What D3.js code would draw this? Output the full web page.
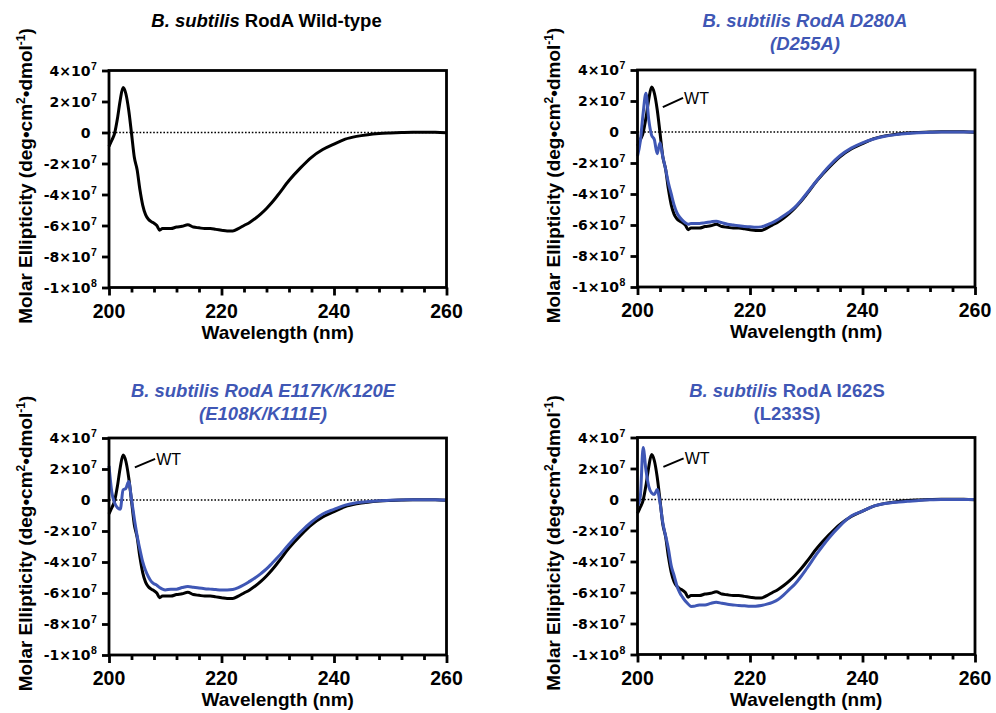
<!DOCTYPE html>
<html>
<head>
<meta charset="utf-8">
<script src="https://cdn.jsdelivr.net/npm/d3@7"></script>
<style>
  body { margin: 0; background: #fff; }
</style>
</head>
<body>
<div id="chart"></div>
<script>
var W = 996,
	H = 713;

var blue = "#3f57b5";
var font = '"Liberation Sans", Arial, sans-serif';

// wavelength (nm) of every sample
var wavelengths = [200,200.5,201,201.5,202,202.5,203,203.5,204,204.5,205,205.5,206,206.5,207,207.5,208,208.5,209,209.5,210,
	211,212,213,214,215,216,217,218,219,220,221,222,223,224,225,226,227,228,229,230,
	232,234,236,238,240,242,244,246,248,250,252,254,256,258,260];

// molar ellipticity, in units of 10^6 deg cm2 dmol-1
var wildType = [-9,-5,-0.5,9,21,29,25,14.5,-0.5,-16,-24,-37,-47,-53,-56,-57.5,-58.5,-60,-63,-62,-62,
	-62,-61,-60.5,-59.5,-61,-61.5,-62,-62,-62.5,-63,-63.5,-63.5,-62,-60,-58,-55.5,-52.5,-49,-45,-40.5,
	-31,-23,-16,-11,-7.5,-4.3,-2.5,-1.4,-0.7,-0.3,0,0.2,0.2,0.1,-0.2];

var d280a = [-15.5,-6,12,25,8,-2,-5,-14,-7,-16,-24,-33,-40,-47,-52,-55,-57,-58.5,-59.5,-59,-59,
	-59,-58.5,-58,-57.5,-58.5,-59.5,-60,-60.5,-61,-61.2,-61.5,-61.2,-60,-58.5,-56.5,-54,-51.5,-48.5,-44.5,-40,
	-30.8,-22.2,-15.3,-10.4,-7,-4.5,-2.8,-1.7,-1,-0.5,-0.2,0,0,0,0];

var e117k = [22,5,-2,-5,-6,6.5,7.5,12,0.5,-12,-23,-32,-40,-45.5,-49.5,-52.5,-54,-55,-56.5,-57.5,-58,
	-57.5,-57.5,-56.5,-55.8,-56.3,-56.8,-57.2,-57.5,-57.8,-58,-58,-57.7,-56.5,-54.7,-52.5,-50.2,-47.5,-44.5,-40.8,-37,
	-28.5,-20.8,-14.2,-9,-6,-3.3,-1.8,-1,-0.5,-0.2,0,0.2,0.2,0.1,0];

var i262s = [-4.3,2,33.5,19,8.5,4.3,3.2,6.4,-2,-15,-23.5,-32,-42.8,-49,-55.6,-60,-63,-65.5,-67.4,-69,-68.9,
	-68,-68,-67,-66.3,-67,-67.6,-68,-68.4,-68.6,-68.9,-68.8,-68.4,-67.5,-66.3,-64.5,-61.5,-58,-54.5,-50,-45,
	-34.5,-25,-17,-10.7,-7.5,-4.3,-2.6,-1.7,-1.2,-0.6,-0.2,0,0,0,0];

// axis ticks
var xMajor = [200, 220, 240, 260];
var yTicks = [40, 20, 0, -20, -40, -60, -80, -100];
var yTickLabels = [["4×10","7"],["2×10","7"],["0",""],["-2×10","7"],["-4×10","7"],["-6×10","7"],["-8×10","7"],["-1×10","8"]];

var plotW = 337.5,
	plotH = 217;

var panels = [
	{left: 109, top: 70.5, titleX: 157.5, titleY: [27], color: "#000",
	 title: [[["B. subtilis", true], [" RodA Wild-type", false]]],
	 mutant: null},
	{left: 637.5, top: 70, titleX: 167.5, titleY: [27, 49.5], color: blue,
	 title: [[["B. subtilis RodA D280A", true]], [["(D255A)", true]]],
	 mutant: d280a, note: [[204.5, 16], [208.1, 22]]},
	{left: 109, top: 438, titleX: 154, titleY: [397, 420], color: blue,
	 title: [[["B. subtilis RodA E117K/K120E", true]], [["(E108K/K111E)", true]]],
	 mutant: e117k, note: [[204.6, 21], [208.2, 26.5]]},
	{left: 637.5, top: 437.5, titleX: 149.5, titleY: [397, 420], color: blue,
	 title: [[["B. subtilis", true], [" RodA I262S", false]], [["(L233S)", false]]],
	 mutant: i262s, note: [[204.6, 21], [208.2, 26.5]]}
];

var svg = d3.select("#chart")
	.append("svg")
	.attr("width", W)
	.attr("height", H)
	.style("font-family", font)
	.style("font-weight", "bold");

svg.append("rect").attr("width", W).attr("height", H).attr("fill", "#fff");

panels.forEach(function(p){
	var x = d3.scaleLinear().domain([200, 260]).range([p.left, p.left + plotW]);
	var y = d3.scaleLinear().domain([-100, 40]).range([p.top + plotH, p.top]);
	var bottom = p.top + plotH;

	var line = d3.line()
		.x(function(d, i){ return x(wavelengths[i]); })
		.y(function(d){ return y(d); })
		.curve(d3.curveMonotoneX);

	var g = svg.append("g");

	// title
	p.title.forEach(function(row, r){
		var t = g.append("text")
			.attr("x", p.left + p.titleX)
			.attr("y", p.titleY[r])
			.attr("text-anchor", "middle")
			.style("font-size", "18.5px")
			.attr("fill", p.color);
		row.forEach(function(s){
			t.append("tspan")
				.style("font-style", s[1] ? "italic" : "normal")
				.text(s[0]);
		});
	});

	// zero line
	g.append("line")
		.attr("x1", x(200)).attr("x2", x(260))
		.attr("y1", y(0)).attr("y2", y(0))
		.attr("stroke", "#000")
		.attr("stroke-width", 1.6)
		.attr("stroke-dasharray", "1.6,1.8");

	// curves
	g.append("path")
		.datum(wildType)
		.attr("d", line)
		.attr("fill", "none")
		.attr("stroke", "#000")
		.attr("stroke-width", 3)
		.attr("stroke-linejoin", "round");

	if (p.mutant){
		g.append("path")
			.datum(p.mutant)
			.attr("d", line)
			.attr("fill", "none")
			.attr("stroke", blue)
			.attr("stroke-width", 3)
			.attr("stroke-linejoin", "round");

		g.append("line")
			.attr("x1", x(p.note[0][0])).attr("y1", y(p.note[0][1]))
			.attr("x2", x(p.note[1][0])).attr("y2", y(p.note[1][1]))
			.attr("stroke", "#000")
			.attr("stroke-width", 2);
		g.append("text")
			.attr("x", x(p.note[1][0]) + 1)
			.attr("y", y(p.note[1][1]))
			.attr("dy", "0.36em")
			.style("font-size", "16px")
			.style("font-weight", "normal")
			.text("WT");
	}

	// frame
	g.append("rect")
		.attr("x", p.left).attr("y", p.top)
		.attr("width", plotW).attr("height", plotH)
		.attr("fill", "none")
		.attr("stroke", "#000")
		.attr("stroke-width", 2.8);

	// x ticks
	var xAxis = d3.axisBottom(x)
		.tickValues(d3.range(200, 261, 4))
		.tickSize(5)
		.tickFormat("");
	g.append("g")
		.attr("transform", "translate(0," + bottom + ")")
		.call(xAxis)
		.call(function(a){
			a.select(".domain").remove();
			a.selectAll(".tick line")
				.attr("stroke-width", 2.8)
				.attr("y2", function(d){ return xMajor.indexOf(d) >= 0 ? 8 : 5; });
		});

	g.selectAll(".xlab")
		.data(xMajor)
		.enter()
		.append("text")
		.attr("x", function(d){ return x(d); })
		.attr("y", bottom + 30)
		.attr("text-anchor", "middle")
		.style("font-size", "19.5px")
		.text(function(d){ return d; });

	g.append("text")
		.attr("x", p.left + plotW / 2)
		.attr("y", bottom + 51)
		.attr("text-anchor", "middle")
		.style("font-size", "19px")
		.text("Wavelength (nm)");

	// y ticks
	var yAxis = d3.axisLeft(y)
		.tickValues(yTicks)
		.tickSize(7)
		.tickFormat("");
	g.append("g")
		.attr("transform", "translate(" + p.left + ",0)")
		.call(yAxis)
		.call(function(a){
			a.select(".domain").remove();
			a.selectAll(".tick line").attr("stroke-width", 2.8);
		});

	yTicks.forEach(function(v, i){
		g.append("text")
			.attr("x", p.left - 18.5)
			.attr("y", y(v))
			.attr("dy", "0.36em")
			.attr("text-anchor", "end")
			.style("font-family", '"DejaVu Sans", sans-serif')
			.style("font-size", "14px")
			.text(yTickLabels[i][0]);
		if (yTickLabels[i][1]){
			g.append("text")
				.attr("x", p.left - 18)
				.attr("y", y(v) - 1)
				.style("font-size", "10.5px")
				.text(yTickLabels[i][1]);
		}
	});

	// y title
	var yt = g.append("text")
		.attr("transform", "translate(" + (p.left - 77.5) + "," + (p.top + plotH / 2 - 3) + ") rotate(-90)")
		.attr("text-anchor", "middle")
		.style("font-size", "19px");
	yt.append("tspan").text("Molar Ellipticity (deg•cm");
	yt.append("tspan").style("font-size", "12px").attr("dy", -7).text("2");
	yt.append("tspan").attr("dy", 7).text("•dmol");
	yt.append("tspan").style("font-size", "12px").attr("dy", -7).text("-1");
	yt.append("tspan").attr("dy", 7).text(")");
});
</script>
</body>
</html>
